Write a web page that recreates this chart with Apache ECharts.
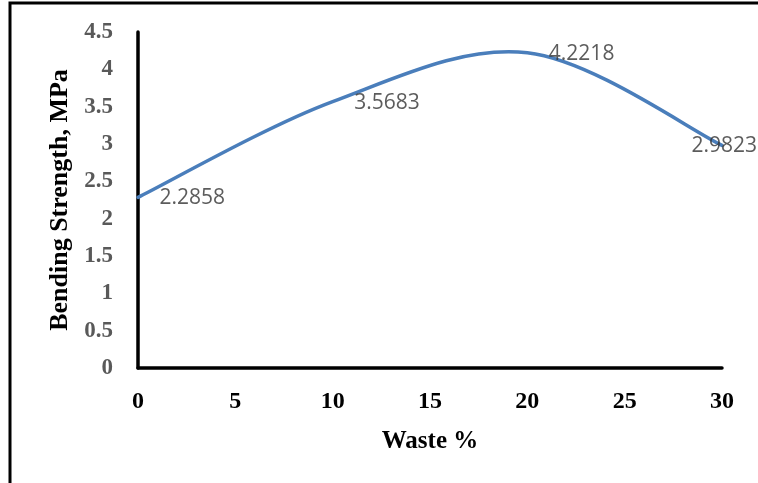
<!DOCTYPE html>
<html>
<head>
<meta charset="utf-8">
<title>Bending Strength vs Waste %</title>
<script src="https://cdn.jsdelivr.net/npm/echarts@6/dist/echarts.min.js"></script>
<style>
  html, body { margin: 0; padding: 0; background: #ffffff; }
  #chart { width: 758px; height: 483px; }
</style>
</head>
<body>
<div id="chart"></div>
<script>
// Waste content (%) and measured bending strength (MPa)
var wastePercent = [0, 10, 20, 30];
var bendingStrength = [2.2858, 3.5683, 4.2218, 2.9823];

// Axis ranges and steps
var xRange = [0, 30];
var xStep = 5;
var yRange = [0, 4.5];
var yStep = 0.5;

// Label offsets per point (the last one sits back inside the frame)
var labelOffsets = [[21, 1], [21, 1], [21, 1], [-31, 1]];

var points = wastePercent.map(function (x, i) { return [x, bendingStrength[i]]; });

// Smoothed curve through the points: cubic Bezier segments whose
// tangents follow the neighbouring points (Catmull-Rom, tension 1/6).
function smoothPath(api) {
  var px = points.map(function (p) { return api.coord(p); });
  var n = px.length;
  var d = 'M' + px[0][0] + ',' + px[0][1];
  for (var i = 0; i < n - 1; i++) {
    var p0 = px[Math.max(i - 1, 0)];
    var p1 = px[i];
    var p2 = px[i + 1];
    var p3 = px[Math.min(i + 2, n - 1)];
    var c1x = p1[0] + (p2[0] - p0[0]) / 6;
    var c1y = p1[1] + (p2[1] - p0[1]) / 6;
    var c2x = p2[0] - (p3[0] - p1[0]) / 6;
    var c2y = p2[1] - (p3[1] - p1[1]) / 6;
    d += ' C' + c1x + ',' + c1y + ' ' + c2x + ',' + c2y + ' ' + p2[0] + ',' + p2[1];
  }
  return d;
}

var chart = echarts.init(document.getElementById('chart'), null, { renderer: 'canvas' });

chart.setOption({
  animation: false,
  backgroundColor: '#ffffff',
  graphic: [{
    type: 'rect',
    shape: { x: 10, y: 3, width: 900, height: 700 },
    style: { fill: 'none', stroke: '#000000', lineWidth: 3 },
    silent: true,
    z: 100
  }],
  grid: { left: 138, right: 36, top: 32, bottom: 115, containLabel: false },
  xAxis: {
    type: 'value',
    min: xRange[0],
    max: xRange[1],
    interval: xStep,
    name: 'Waste %',
    nameLocation: 'middle',
    nameGap: 61,
    nameTextStyle: { fontFamily: 'Liberation Serif', fontWeight: 'bold', fontSize: 25, color: '#000000' },
    axisLine: { show: true, lineStyle: { color: '#000000', width: 3.5 } },
    axisTick: { show: false },
    splitLine: { show: false },
    axisLabel: { margin: 22, fontFamily: 'Liberation Serif', fontWeight: 'bold', fontSize: 24, color: '#000000' }
  },
  yAxis: {
    type: 'value',
    min: yRange[0],
    max: yRange[1],
    interval: yStep,
    name: 'Bending Strength, MPa',
    nameLocation: 'middle',
    nameGap: 64,
    nameTextStyle: { fontFamily: 'Liberation Serif', fontWeight: 'bold', fontSize: 26, color: '#000000' },
    axisLine: { show: true, lineStyle: { color: '#000000', width: 3.5 } },
    axisTick: { show: false },
    splitLine: { show: false },
    axisLabel: {
      margin: 25,
      fontFamily: 'Liberation Serif',
      fontWeight: 'bold',
      fontSize: 23,
      color: '#595959',
      formatter: function (v) { return String(v); }
    }
  },
  series: [
    {
      type: 'custom',
      data: [points[0]],
      clip: false,
      renderItem: function (params, api) {
        return {
          type: 'path',
          shape: { pathData: smoothPath(api) },
          style: { fill: 'none', stroke: '#4a7ebb', lineWidth: 3.5, lineCap: 'round' }
        };
      },
      z: 3
    },
    {
      type: 'scatter',
      symbolSize: 1,
      itemStyle: { color: 'rgba(0,0,0,0)' },
      data: points.map(function (p, i) {
        return { value: p, label: { offset: labelOffsets[i] } };
      }),
      label: {
        show: true,
        position: 'right',
        distance: 0,
        fontFamily: 'Open Sans',
        fontSize: 21,
        color: '#333333',
        formatter: function (p) { return p.value[1].toFixed(4); }
      },
      z: 4
    }
  ]
});
</script>
</body>
</html>
